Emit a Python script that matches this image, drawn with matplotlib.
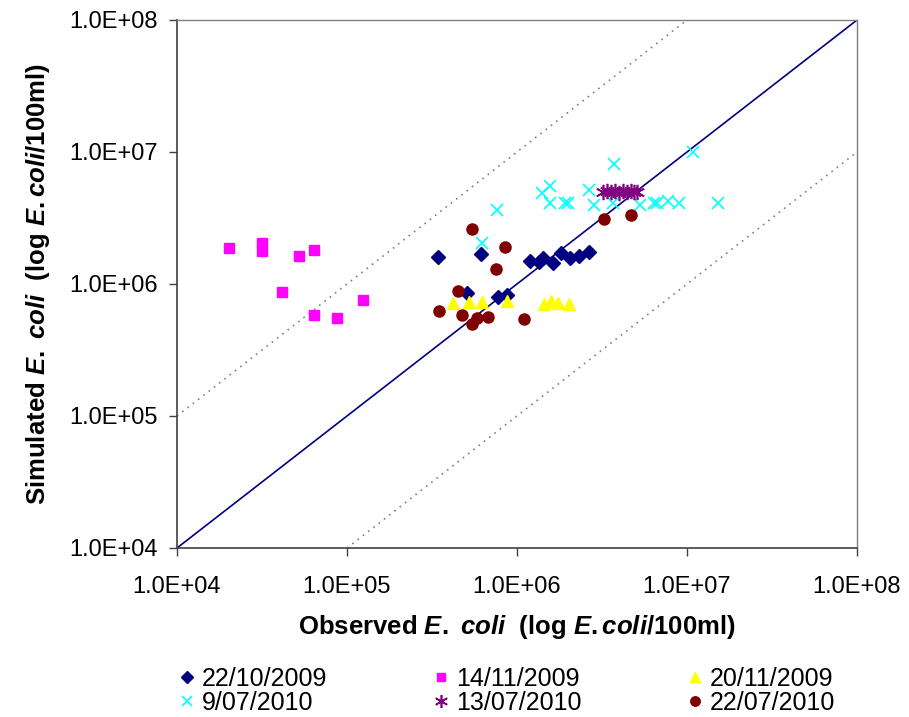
import matplotlib
matplotlib.use("Agg")
import matplotlib.pyplot as plt

# observed / simulated E. coli per sampling date
d_221009_obs = [3.44e5, 6.14e5, 5.06e5, 7.76e5, 8.77e5, 1.19e6, 1.35e6, 1.43e6, 1.62e6, 1.82e6, 2.05e6, 2.32e6, 2.65e6]
d_221009_sim = [1.61e6, 1.70e6, 8.5e5, 8.0e5, 8.26e5, 1.49e6, 1.47e6, 1.57e6, 1.44e6, 1.73e6, 1.57e6, 1.64e6, 1.76e6]

d_141109_obs = [2.01e4, 3.16e4, 3.16e4, 5.24e4, 6.4e4, 4.15e4, 6.4e4, 8.7e4, 1.25e5]
d_141109_sim = [1.86e6, 2.03e6, 1.79e6, 1.63e6, 1.82e6, 8.7e5, 5.8e5, 5.56e5, 7.5e5]

d_201109_obs = [4.19e5, 5.2e5, 6.25e5, 8.77e5, 1.44e6, 1.58e6, 1.75e6, 2.03e6]
d_201109_sim = [7.14e5, 7.26e5, 7.26e5, 7.43e5, 7.05e5, 7.43e5, 7.22e5, 7.05e5]

d_090710_obs = [6.25e5, 7.6e5, 1.40e6, 1.56e6, 1.56e6, 1.92e6, 2.0e6, 2.66e6, 2.84e6, 3.72e6,
                3.67e6, 5.29e6, 6.42e6, 6.62e6, 7.73e6, 8.97e6, 1.09e7, 1.52e7]
d_090710_sim = [2.03e6, 3.64e6, 4.87e6, 5.52e6, 4.13e6, 4.08e6, 4.08e6, 5.15e6, 3.97e6, 8.07e6,
                4.11e6, 3.97e6, 4.13e6, 4.13e6, 4.28e6, 4.08e6, 1.0e7, 4.13e6]

d_130710_obs = [3.21e6, 3.38e6, 3.57e6, 3.77e6, 3.98e6, 4.2e6, 4.44e6, 4.69e6, 4.88e6, 5.08e6]
d_130710_sim = [5.0e6, 5.1e6, 4.95e6, 5.05e6, 4.9e6, 5.1e6, 4.95e6, 5.05e6, 5.0e6, 4.95e6]

d_220710_obs = [5.46e5, 8.54e5, 7.52e5, 4.48e5, 3.48e5, 4.73e5, 5.79e5, 5.46e5, 6.75e5, 1.10e6, 3.25e6, 4.66e6]
d_220710_sim = [2.59e6, 1.92e6, 1.31e6, 8.9e5, 6.28e5, 5.82e5, 5.5e5, 4.98e5, 5.6e5, 5.46e5, 3.11e6, 3.33e6]

tick_vals = [1e4, 1e5, 1e6, 1e7, 1e8]
tick_labels = ["1.0E+04", "1.0E+05", "1.0E+06", "1.0E+07", "1.0E+08"]

plt.rcParams["font.family"] = ["Liberation Sans", "DejaVu Sans"]
plt.rcParams["mathtext.fontset"] = "custom"
plt.rcParams["mathtext.it"] = "Liberation Sans:italic:bold"
plt.rcParams["mathtext.rm"] = "Liberation Sans:bold"

fig = plt.figure(figsize=(9.09, 7.17), dpi=100)
ax = fig.add_axes([177 / 909, 1 - 548 / 717, 680 / 909, 528 / 717])
ax.set_xscale("log")
ax.set_yscale("log")

# 1:1 line and factor-of-10 bands
ax.plot([1e4, 1e8], [1e4, 1e8], color="#000080", lw=1.2, zorder=1)
ax.plot([1e4, 1e7], [1e5, 1e8], color="#808080", lw=1.2, ls=(0, (1, 3)), zorder=1)
ax.plot([1e5, 1e8], [1e4, 1e7], color="#808080", lw=1.2, ls=(0, (1, 3)), zorder=1)

h1, = ax.plot(d_221009_obs, d_221009_sim, ls="none", marker="D", ms=7, color="#000080", label="22/10/2009")
h2, = ax.plot(d_141109_obs, d_141109_sim, ls="none", marker="s", ms=7.5, color="#FF00FF", label="14/11/2009")
h3, = ax.plot(d_201109_obs, d_201109_sim, ls="none", marker="^", ms=9, color="#FFFF00", label="20/11/2009")
h4, = ax.plot(d_090710_obs, d_090710_sim, ls="none", marker="x", ms=9, mew=1.2, color="#00FFFF", label="9/07/2010")
h5, = ax.plot(d_130710_obs, d_130710_sim, ls="none", marker=(6, 2, 0), ms=11, mew=1.2, color="#800080", label="13/07/2010")
h6, = ax.plot(d_220710_obs, d_220710_sim, ls="none", marker="o", ms=8, color="#800000", label="22/07/2010")

ax.set_xlim(1e4, 1e8)
ax.set_ylim(1e4, 1e8)
ax.set_xticks(tick_vals, tick_labels, fontsize=17)
ax.set_yticks(tick_vals, tick_labels, fontsize=17)
ax.minorticks_off()
ax.tick_params(axis="x", direction="out", length=6, width=1, color="#404040", pad=14)
ax.tick_params(axis="y", direction="out", length=6, width=1, color="#404040", pad=8)

for side in ["top", "right"]:
    ax.spines[side].set_color("#808080")
    ax.spines[side].set_linewidth(1)
for side in ["left", "bottom"]:
    ax.spines[side].set_color("#404040")
    ax.spines[side].set_linewidth(1.2)

ax.set_xlabel(r"Observed $E.$ $coli$  (log $E.coli$/100ml)", fontsize=18.5, fontweight="bold", labelpad=11)
ax.set_ylabel(r"Simulated $E.$ $coli$  (log $E.coli$/100ml)", fontsize=18.5, fontweight="bold", labelpad=12)

# legend fills column-wise, so order gives rows 22/10,14/11,20/11 then 9/07,13/07,22/07
handles = [h1, h4, h2, h5, h3, h6]
fig.legend(handles=handles, labels=[h.get_label() for h in handles], ncol=3,
           loc="center", bbox_to_anchor=(506 / 909, 1 - 691 / 717), frameon=False,
           prop={"size": 18}, handlelength=0.8, handletextpad=0.2,
           columnspacing=4.15, labelspacing=0.0, borderpad=0, markerscale=0.85)

fig.savefig("out.png", dpi=100, facecolor="white")
